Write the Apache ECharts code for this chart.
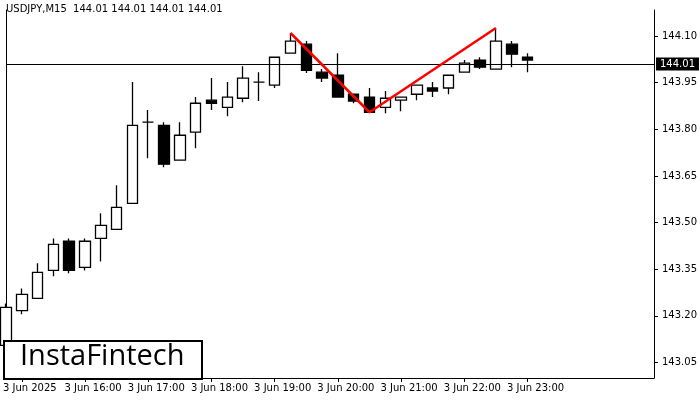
<!DOCTYPE html>
<html><head><meta charset="utf-8">
<script src="https://cdn.jsdelivr.net/npm/echarts@6/dist/echarts.min.js"></script>
<style>html,body{margin:0;padding:0;background:#fff}#c{width:700px;height:400px}</style>
</head><body><div id="c"></div>
<script>
const symbol = 'USDJPY,M15  144.01 144.01 144.01 144.01';
// [open, close, low, high]
const candles = [
[143.105,143.227,143.056,143.240],[143.217,143.269,143.205,143.288],[143.256,143.340,143.256,143.369],
[143.346,143.430,143.327,143.449],[143.440,143.346,143.337,143.449],[143.356,143.440,143.346,143.449],
[143.449,143.491,143.375,143.530],[143.478,143.549,143.478,143.620],[143.562,143.813,143.562,143.952],
[143.823,143.823,143.707,143.862],[143.813,143.688,143.678,143.823],[143.701,143.781,143.701,143.823],
[143.791,143.884,143.739,143.904],[143.894,143.884,143.862,143.965],[143.871,143.904,143.842,143.952],
[143.900,143.965,143.887,144.003],[143.952,143.952,143.891,143.984],[143.942,144.032,143.933,144.032],
[144.045,144.084,144.045,144.110],[144.074,143.990,143.981,144.084],[143.984,143.965,143.952,143.994],
[143.974,143.904,143.904,144.045],[143.913,143.891,143.884,143.913],[143.904,143.855,143.855,143.933],
[143.871,143.900,143.852,143.923],[143.894,143.904,143.858,143.904],[143.913,143.942,143.894,143.942],
[143.933,143.923,143.904,143.952],[143.933,143.974,143.913,143.974],[143.984,144.013,143.984,144.023],
[144.023,144.000,143.994,144.032],[143.994,144.084,143.994,144.126],[144.074,144.042,144.000,144.084],
[144.032,144.023,143.984,144.045]
];
const timeLabels = ['3 Jun 2025','3 Jun 16:00','3 Jun 17:00','3 Jun 18:00','3 Jun 19:00','3 Jun 20:00','3 Jun 21:00','3 Jun 22:00','3 Jun 23:00'];
const yTicks = [143.05,143.20,143.35,143.50,143.65,143.80,143.95,144.10];
const pattern = [[18,144.11],[23,143.855],[31,144.126]];
const lastPrice = 144.01;

const N = 42;
const cats = [];
for (let i = 0; i < N; i++) cats.push((i - 1) % 4 === 0 && timeLabels[(i - 1) / 4] ? timeLabels[(i - 1) / 4] : '');
const bull = [], bear = [];
candles.forEach((c, i) => {
  if (c[1] >= c[0]) { bull.push(c); bear.push('-'); } else { bear.push(c); bull.push('-'); }
});
const font = 'DejaVu Sans';
const shown = (i) => cats[i] !== '';
const chart = echarts.init(document.getElementById('c'));
chart.setOption({
  animation: false,
  textStyle: { fontFamily: font },
  grid: { left: 2, right: 42, top: 10, bottom: 22 },
  xAxis: {
    type: 'category', data: cats, boundaryGap: false,
    axisLine: { lineStyle: { color: '#000' } },
    axisTick: { show: true, interval: shown, lineStyle: { color: '#000' }, length: 4 },
    axisLabel: { interval: shown, color: '#000', fontSize: 10, fontFamily: font, margin: 5,
      formatter: v => '{a|' + v + '}', rich: { a: { padding: [0, 0, 0, 16], fontSize: 10, color: '#000' } } },
    splitLine: { show: false }
  },
  yAxis: [{
    type: 'value', position: 'right', min: 143.0, max: 144.184, scale: true,
    axisLine: { show: true, lineStyle: { color: '#000' } },
    axisTick: { show: true, customValues: yTicks, lineStyle: { color: '#000' }, length: 4 },
    axisLabel: { customValues: yTicks, color: '#000', fontSize: 10, fontFamily: font, margin: 8,
      formatter: v => v.toFixed(2) },
    splitLine: { show: false }
  }, {
    type: 'value', position: 'left', min: 143.0, max: 144.184,
    axisLine: { show: true, onZero: false, lineStyle: { color: '#000' } },
    axisTick: { show: false }, axisLabel: { show: false }, splitLine: { show: false }
  }],
  series: [
    { type: 'candlestick', data: bull, barWidth: 11,
      itemStyle: { color: '#fff', color0: '#000', borderColor: '#000', borderColor0: '#000', borderWidth: 1.3 },
      markLine: { symbol: 'none', silent: true, data: [{ yAxis: lastPrice }],
        lineStyle: { color: '#000', width: 1, type: 'solid' },
        label: { position: 'end', distance: 2, formatter: lastPrice.toFixed(2), backgroundColor: '#000', color: '#fff',
          fontSize: 10, fontFamily: font, padding: [2, 4, 1, 4] } } },
    { type: 'candlestick', data: bear, barWidth: 11,
      itemStyle: { color: '#000', color0: '#000', borderColor: '#000', borderColor0: '#000', borderWidth: 1.3 } },
    { type: 'line', data: pattern, symbol: 'none', lineStyle: { color: '#ff0000', width: 2.5 }, z: 5 }
  ],
  graphic: [
    { type: 'text', left: 6, top: 4, style: { text: symbol, fontSize: 10, fill: '#000', fontFamily: font } },
    { type: 'rect', left: 3, top: 340, shape: { width: 198, height: 38 }, style: { fill: '#fff', stroke: '#000', lineWidth: 2 }, z: 10 },
    { type: 'text', left: 20, top: 342, style: { text: 'InstaFintech', fontSize: 29, fontWeight: 500, fill: '#000', fontFamily: 'Open Sans' }, z: 11 }
  ]
});
</script></body></html>
